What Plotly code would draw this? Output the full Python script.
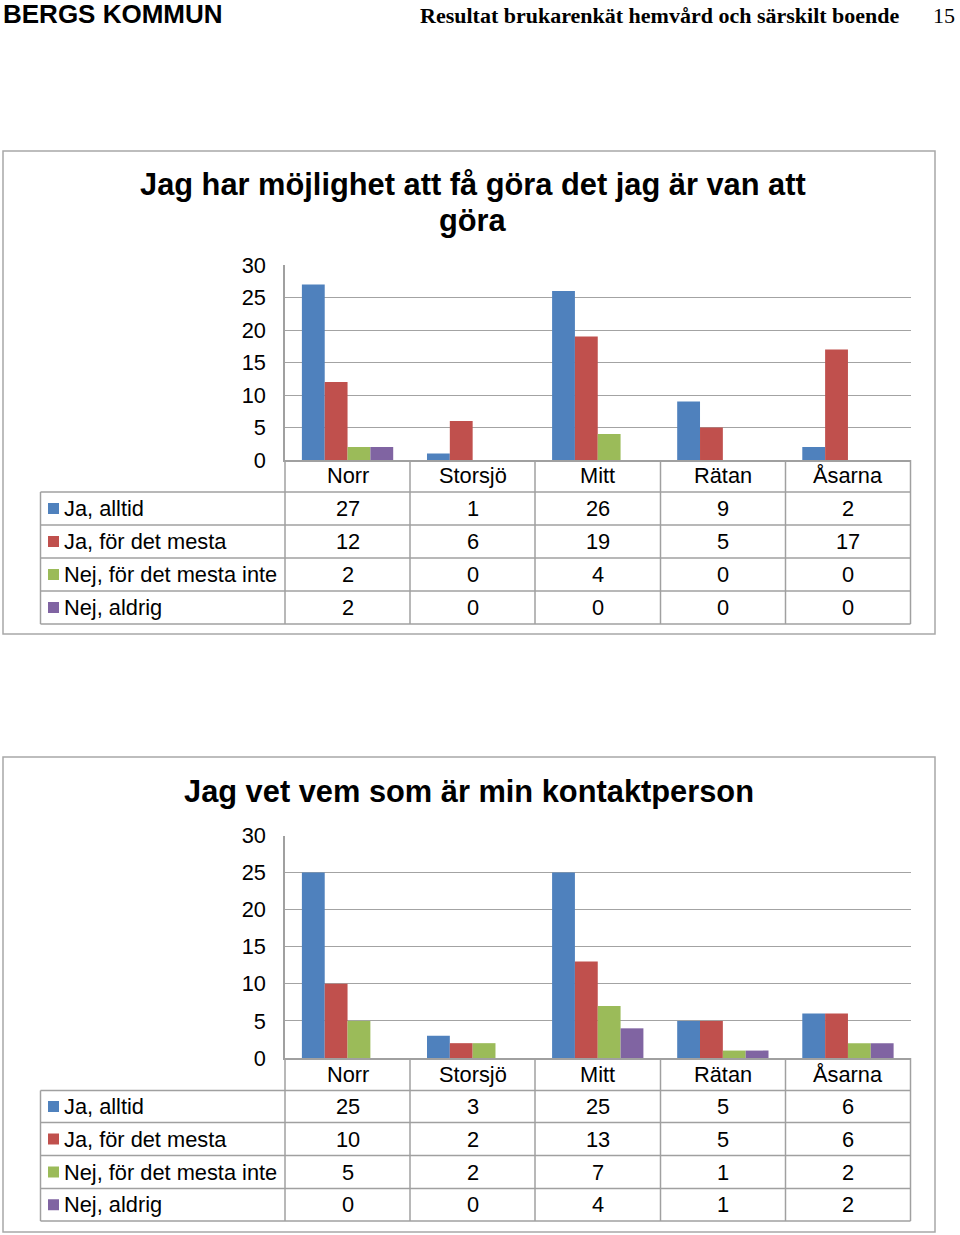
import plotly.graph_objects as go

W, H = 960, 1235

categories = ["Norr", "Storsjö", "Mitt", "Rätan", "Åsarna"]
series_names = ["Ja, alltid", "Ja, för det mesta", "Nej, för det mesta inte", "Nej, aldrig"]
series_colors = ["#4F81BD", "#C0504D", "#9BBB59", "#8064A2"]

title1_lines = ["Jag har möjlighet att få göra det jag är van att", "göra"]
q1_ja_alltid = [27, 1, 26, 9, 2]
q1_ja_mesta = [12, 6, 19, 5, 17]
q1_nej_mesta = [2, 0, 4, 0, 0]
q1_nej_aldrig = [2, 0, 0, 0, 0]

title2_lines = ["Jag vet vem som är min kontaktperson"]
q2_ja_alltid = [25, 3, 25, 5, 6]
q2_ja_mesta = [10, 2, 13, 5, 6]
q2_nej_mesta = [5, 2, 7, 1, 2]
q2_nej_aldrig = [0, 0, 4, 1, 2]

y_ticks = [0, 5, 10, 15, 20, 25, 30]

header_left = "BERGS KOMMUN"
header_right = "Resultat brukarenkät hemvård och särskilt boende"
page_no = "15"

FONT = "Liberation Sans, Arial, sans-serif"
SERIF = "Liberation Serif, Times New Roman, serif"
GRID = "#a3a3a3"
LINE = "#a0a0a0"
TXT = 21.8


def px(x):
    return x / W


def py(y):
    return 1 - y / H


charts = [
    dict(title=title1_lines, data=[q1_ja_alltid, q1_ja_mesta, q1_nej_mesta, q1_nej_aldrig],
         frame=(3, 151, 935, 634), title_x=473, title_y=[185, 220], top=265, zero=460,
         rows=[460, 492, 525, 558, 591, 624]),
    dict(title=title2_lines, data=[q2_ja_alltid, q2_ja_mesta, q2_nej_mesta, q2_nej_aldrig],
         frame=(3, 757, 935, 1232), title_x=469, title_y=[791], top=835.5, zero=1058,
         rows=[1058, 1090.5, 1122.5, 1155.5, 1188.5, 1221]),
]

X0, X1 = 285, 910.5
TL = 40.5
col_edges = [285, 410, 535, 660.5, 785.5, 910.5]

fig = go.Figure()
shapes = []
annotations = []

for ci, ch in enumerate(charts):
    sfx = "" if ci == 0 else str(ci + 1)
    xa = "x" + sfx
    ya = "y" + sfx
    for si, name in enumerate(series_names):
        fig.add_trace(go.Bar(x=categories, y=ch["data"][si], name=name,
                             marker=dict(color=series_colors[si], line=dict(width=0)),
                             xaxis=xa, yaxis=ya, showlegend=False))
    fig.layout["xaxis" + sfx] = dict(
        domain=[px(X0), px(X1)], anchor=ya, showticklabels=False, ticks="",
        showline=True, linecolor=LINE, linewidth=1.5, showgrid=False, zeroline=False,
        automargin=False,
        categoryorder="array", categoryarray=categories, fixedrange=True)
    fig.layout["yaxis" + sfx] = dict(
        domain=[py(ch["zero"]), py(ch["top"])], anchor=xa, range=[0, 30],
        tickvals=y_ticks, ticks="", showline=True, linecolor=LINE, linewidth=1.5,
        showgrid=True, gridcolor=GRID, gridwidth=1.3, zeroline=False, automargin=False,
        tickfont=dict(family=FONT, size=TXT, color="black"), ticklabelstandoff=13,
        fixedrange=True)

    # outer frame
    fx0, fy0, fx1, fy1 = ch["frame"]
    shapes.append(dict(type="rect", xref="paper", yref="paper", x0=px(fx0), x1=px(fx1),
                       y0=py(fy0), y1=py(fy1), line=dict(color="#a8a8a8", width=1.5)))
    # title lines
    for line_txt, ty in zip(ch["title"], ch["title_y"]):
        annotations.append(dict(text="<b>" + line_txt + "</b>", xref="paper", yref="paper",
                                x=px(ch["title_x"]), y=py(ty), xanchor="center", yanchor="middle",
                                showarrow=False, font=dict(family=FONT, size=30.8, color="black")))
    rows = ch["rows"]
    # table horizontal lines
    for r in rows[1:]:
        shapes.append(dict(type="line", xref="paper", yref="paper", x0=px(TL), x1=px(X1),
                           y0=py(r), y1=py(r), line=dict(color=LINE, width=1.5)))
    # vertical lines
    for c in col_edges:
        shapes.append(dict(type="line", xref="paper", yref="paper", x0=px(c), x1=px(c),
                           y0=py(rows[0]), y1=py(rows[-1]), line=dict(color=LINE, width=1.5)))
    shapes.append(dict(type="line", xref="paper", yref="paper", x0=px(TL), x1=px(TL),
                       y0=py(rows[1]), y1=py(rows[-1]), line=dict(color=LINE, width=1.5)))
    # category header
    cy = (rows[0] + rows[1]) / 2
    for cat in categories:
        annotations.append(dict(text=cat, xref=xa, yref="paper", x=cat, y=py(cy),
                                xanchor="center", yanchor="middle", showarrow=False,
                                font=dict(family=FONT, size=TXT, color="black")))
    # data rows
    for si, name in enumerate(series_names):
        ry = (rows[si + 1] + rows[si + 2]) / 2
        shapes.append(dict(type="rect", xref="paper", yref="paper", x0=px(48), x1=px(59),
                           y0=py(ry - 5.5), y1=py(ry + 5.5), line=dict(width=0),
                           fillcolor=series_colors[si]))
        annotations.append(dict(text=name, xref="paper", yref="paper", x=px(62), y=py(ry),
                                xanchor="left", yanchor="middle", showarrow=False,
                                font=dict(family=FONT, size=TXT, color="black")))
        for cat, v in zip(categories, ch["data"][si]):
            annotations.append(dict(text=str(v), xref=xa, yref="paper", x=cat, y=py(ry),
                                    xanchor="center", yanchor="middle", showarrow=False,
                                    font=dict(family=FONT, size=TXT, color="black")))

# page header
annotations.append(dict(text="<b>" + header_left + "</b>", xref="paper", yref="paper",
                        x=px(1), y=py(14), xanchor="left", yanchor="middle", showarrow=False,
                        font=dict(family=FONT, size=26, color="black")))
annotations.append(dict(text="<b>" + header_right + "</b>", xref="paper", yref="paper",
                        x=px(902), y=py(16), xanchor="right", yanchor="middle", showarrow=False,
                        font=dict(family=SERIF, size=22, color="black")))
annotations.append(dict(text=page_no, xref="paper", yref="paper",
                        x=px(957), y=py(16), xanchor="right", yanchor="middle", showarrow=False,
                        font=dict(family=SERIF, size=22, color="black")))

fig.update_layout(width=W, height=H,
                  margin=dict(l=0, r=0, t=0, b=0, pad=0, autoexpand=False),
                  autosize=False,
                  paper_bgcolor="white", plot_bgcolor="white",
                  barmode="group", bargap=0.27, bargroupgap=0,
                  shapes=shapes, annotations=annotations,
                  font=dict(family=FONT))

fig.write_html(
    "out.html", config={"displayModeBar": False, "responsive": False},
    post_script=("document.documentElement.style.margin='0';"
                 "document.body.style.margin='0';document.body.style.padding='0';"
                 "var gd=document.getElementById('{plot_id}');"
                 "gd.style.position='fixed';gd.style.left='0px';gd.style.top='0px';"))
